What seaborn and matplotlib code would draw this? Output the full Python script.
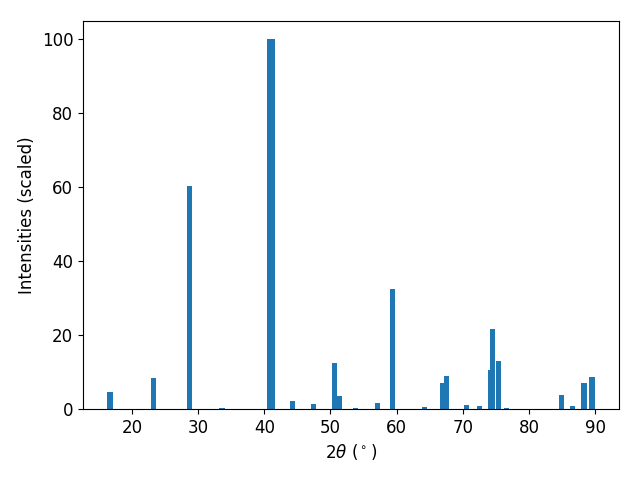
import numpy as np
import pandas as pd
import matplotlib
matplotlib.use("Agg")
import matplotlib.pyplot as plt
import seaborn as sns

two_theta = [16.67, 23.25, 28.7, 33.6, 40.8, 41.2, 44.27, 47.4, 50.6, 51.35, 53.8,
             57.1, 59.4, 64.2, 66.9, 67.5, 70.57, 72.5, 74.2, 74.5, 75.4, 76.6,
             84.9, 86.6, 88.3, 89.5]
intensity = [4.6, 8.4, 60.4, 0.3, 100.0, 100.0, 2.2, 1.4, 12.5, 3.5, 0.3,
             1.6, 32.4, 0.5, 7.0, 9.0, 1.1, 0.8, 10.6, 21.7, 13.0, 0.3,
             3.8, 0.8, 7.0, 8.7]

plt.rcParams["font.size"] = 12
df = pd.DataFrame({"two_theta": two_theta, "intensity": intensity})

fig, ax = plt.subplots(figsize=(6.4, 4.8), dpi=100)
min_gap = np.min(np.diff(np.unique(df["two_theta"])))
sns.barplot(data=df, x="two_theta", y="intensity", native_scale=True,
            orient="x", width=0.8 / min_gap, color="#1f77b4", saturation=1,
            errorbar=None, linewidth=0, ax=ax)
ax.set_xlim(12.6, 93.6)
ax.set_ylim(0, 105)
ax.set_xlabel(r"2$\theta$ ($^\circ$)")
ax.set_ylabel("Intensities (scaled)")
fig.subplots_adjust(left=83 / 640, right=619 / 640, top=1 - 21 / 480, bottom=1 - 409 / 480)
fig.savefig("out.png", dpi=100)
